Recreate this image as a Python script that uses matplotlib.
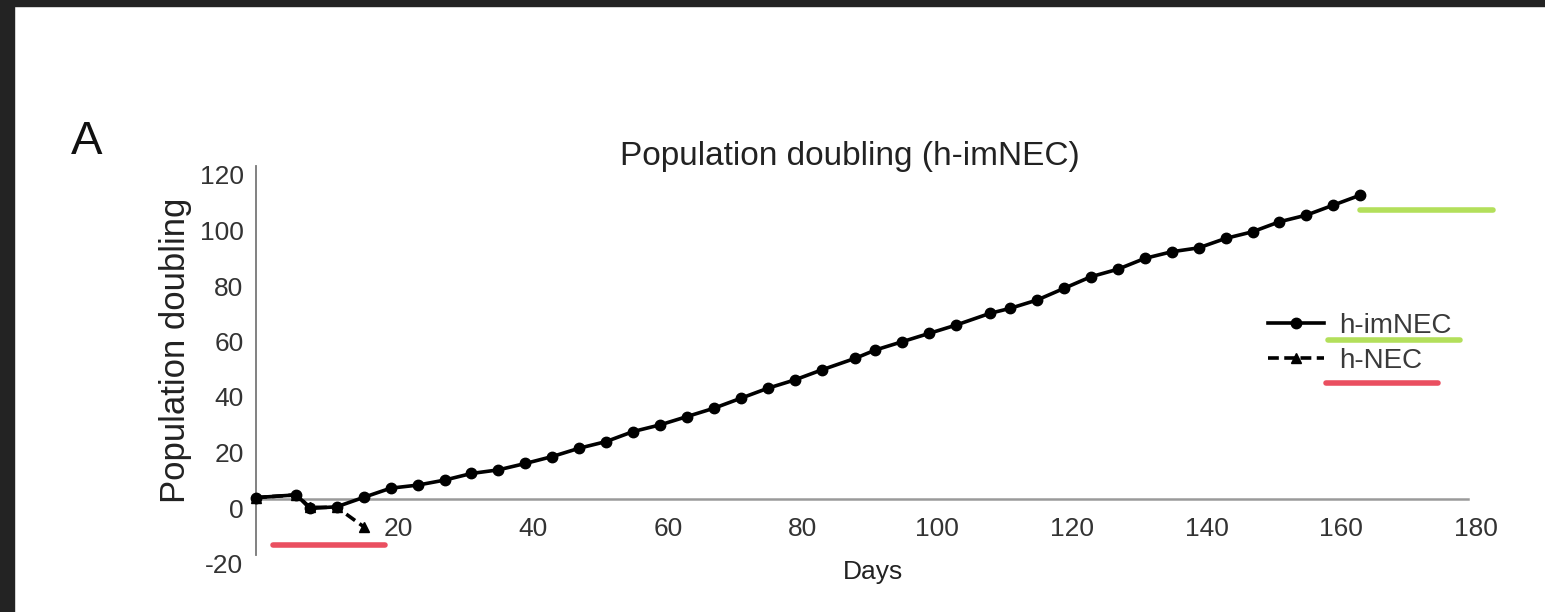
import matplotlib
matplotlib.use("Agg")
import matplotlib.pyplot as plt
import matplotlib.transforms as mtransforms
from matplotlib.lines import Line2D
from matplotlib.patches import Rectangle

plt.rcParams['font.family'] = ['Liberation Sans', 'DejaVu Sans']

# ---------------- data ----------------
imnec_days = [0, 6, 8, 12, 16, 20, 24, 28, 32, 36, 40, 44, 48, 52, 56, 60, 64, 68,
              72, 76, 80, 84, 89, 92, 96, 100, 104, 109, 112, 116, 120, 124, 128,
              132, 136, 140, 144, 148, 152, 156, 160, 164]
imnec_pd = [0.5, 1.5, -3.4, -2.8, 0.6, 3.9, 5.0, 6.8, 9.2, 10.5, 12.8, 15.3, 18.3, 20.7,
            24.3, 26.7, 29.7, 32.7, 36.3, 39.9, 42.9, 46.5, 50.7, 53.7, 56.7, 59.7,
            62.7, 66.9, 68.7, 71.7, 75.9, 80.1, 82.8, 86.7, 89.1, 90.5, 93.9, 96.3,
            99.9, 102.3, 105.9, 109.5]
nec_days = [0, 6, 8, 12, 16]
nec_pd = [0.5, 1.5, -3.0, -3.0, -10]

x_ticks = [20, 40, 60, 80, 100, 120, 140, 160, 180]
y_ticks = [-20, 0, 20, 40, 60, 80, 100, 120]
series_labels = ["h-imNEC", "h-NEC"]

W, H = 1545, 612
fig = plt.figure(figsize=(W / 100, H / 100), dpi=100)
fig.patch.set_facecolor('white')

def fx(px):
    return px / W

def fy(py):
    return 1 - py / H

# dark frame (top and left)
fig.add_artist(Rectangle((0, fy(6)), 1, 6 / H, transform=fig.transFigure,
                         color='#232323', zorder=0))
fig.add_artist(Rectangle((0, 0), 14 / W, 1, transform=fig.transFigure,
                         color='#232323', zorder=0))

left, right = 256, 1468
top, bottom = 166, 554.5
ax = fig.add_axes([fx(left), fy(bottom), (right - left) / W, (bottom - top) / H])
ax.set_xlim(0, 180)
ax.set_ylim(-20, 120)

ax.plot(nec_days, nec_pd, color='black', lw=2.6, ls=(0, (3, 1.5)), marker='^',
        markersize=7, label=series_labels[1], zorder=3, clip_on=False)
ax.plot(imnec_days, imnec_pd, color='black', lw=2.6, marker='o', markersize=7.5,
        label=series_labels[0], zorder=4, clip_on=False)

for s in ['top', 'right']:
    ax.spines[s].set_visible(False)
ax.spines['left'].set_color('#777777')
ax.spines['left'].set_linewidth(1.3)
ax.spines['bottom'].set_position(('data', 0))
ax.spines['bottom'].set_color('#9a9a9a')
ax.spines['bottom'].set_linewidth(1.8)
ax.spines['bottom'].set_linestyle((0, (0.8, 1.0)))

ax.set_xticks(x_ticks)
ax.set_xticklabels([str(v) for v in x_ticks])
ax.set_yticks(y_ticks)
ax.set_yticklabels([str(v) for v in y_ticks])
ax.tick_params(axis='both', length=0, labelsize=19, labelcolor='#333333')
ax.tick_params(axis='x', pad=13)
ax.tick_params(axis='y', pad=9)

dx = mtransforms.ScaledTranslation(8 / 100, 0, fig.dpi_scale_trans)
for lab in ax.get_xticklabels():
    lab.set_transform(lab.get_transform() + dx)
dy = mtransforms.ScaledTranslation(0, -9 / 100, fig.dpi_scale_trans)
for lab in ax.get_yticklabels():
    lab.set_transform(lab.get_transform() + dy)

# texts
fig.text(fx(850), fy(157), "Population doubling (h-imNEC)", ha='center', va='center',
         fontsize=24, color='#222222')
fig.text(fx(873), fy(572), "Days", ha='center', va='center', fontsize=19,
         color='#222222')
fig.text(fx(175), fy(350), "Population doubling", ha='center', va='center',
         rotation=90, fontsize=25, color='#222222')
fig.text(fx(87), fy(142), "A", ha='center', va='center', fontsize=34, color='#111111')

# legend
h, l = ax.get_legend_handles_labels()
leg = ax.legend(h[::-1], l[::-1], loc='upper left', bbox_to_anchor=(fx(1268), fy(313)),
                bbox_transform=fig.transFigure, frameon=False, fontsize=20,
                handlelength=2.0, handletextpad=0.55, labelspacing=0.33, borderpad=0,
                borderaxespad=0)
for t in leg.get_texts():
    t.set_color('#3a3a3a')

# colored highlight strokes
green = '#b3df5b'
red = '#ea4f60'
for (x0, x1, yy, c) in [(1360, 1493, 210, green), (1328, 1460, 340, green),
                        (1326, 1438, 383, red), (273, 385, 545, red)]:
    fig.add_artist(Line2D([fx(x0), fx(x1)], [fy(yy), fy(yy)], transform=fig.transFigure,
                          color=c, lw=4, solid_capstyle='round', zorder=5))

fig.savefig("out.png", dpi=100)
